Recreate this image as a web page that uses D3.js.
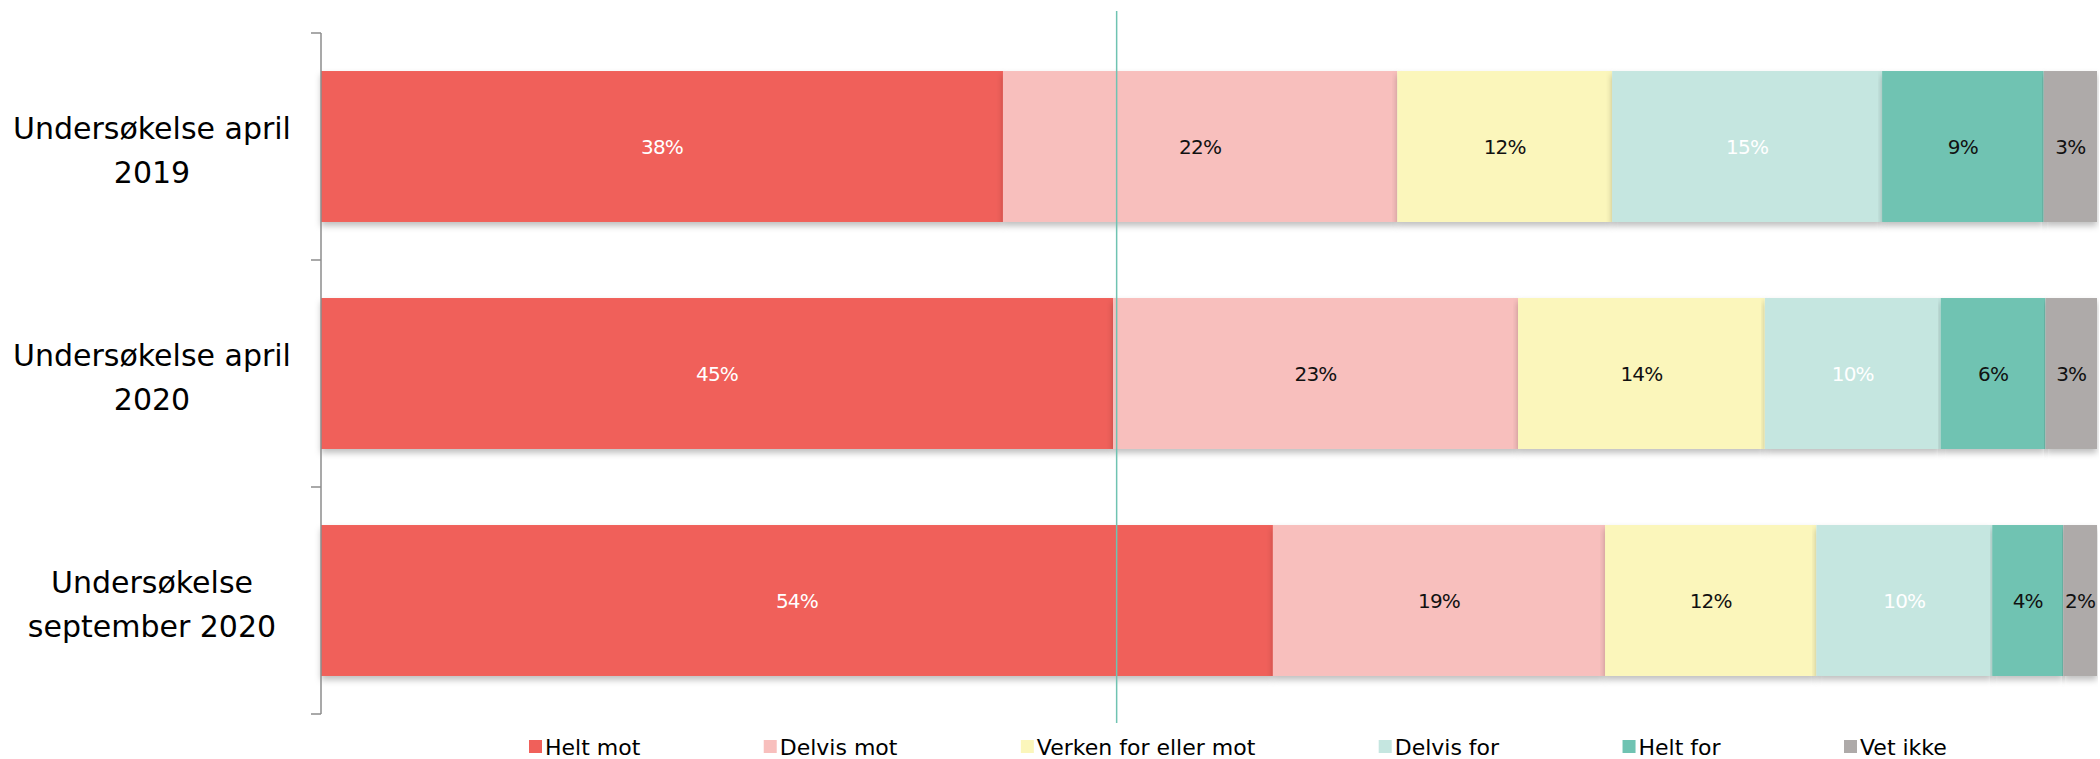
<!DOCTYPE html>
<head>
    <meta charset="utf-8">
    <title>Undersøkelse</title>
    <style>
        html, body {
            margin: 0;
            background: #fff;
        }
        svg text {
            font-family: "DejaVu Sans", sans-serif;
        }
    </style>
</head>
<body>
<script src="https://cdn.jsdelivr.net/npm/d3@7"></script>
<script>

    // data (share of answers, each row sums to ~100)
    const surveys = [
        ["Undersøkelse april", "2019"],
        ["Undersøkelse april", "2020"],
        ["Undersøkelse", "september 2020"]
    ];
    const answers = ["Helt mot", "Delvis mot", "Verken for eller mot", "Delvis for", "Helt for", "Vet ikke"];
    const heltMot = [38.4, 44.6, 53.6];
    const delvisMot = [22.2, 22.8, 18.7];
    const verken = [12.1, 13.9, 11.9];
    const delvisFor = [15.2, 9.9, 9.9];
    const heltFor = [9.1, 5.9, 4.0];
    const vetIkke = [3.0, 2.9, 1.9];
    const refLine = 44.8;

    const colors = ["#f0605a", "#f8bfbd", "#fbf6bb", "#c5e6e0", "#6fc3b2", "#aeaaa9"];
    const labelColors = ["#fff", "#111", "#111", "#fff", "#111", "#111"];

    const width = 2100, height = 759;
    const margin = {top: 33, right: 3, bottom: 45, left: 321};

    const svg = d3.select("body").append("svg")
        .attr("width", width)
        .attr("height", height);

    const defs = svg.append("defs");
    const shadow = defs.append("filter").attr("id", "shadow")
        .attr("x", "-2%").attr("y", "-5%").attr("width", "104%").attr("height", "120%");
    shadow.append("feDropShadow")
        .attr("dx", 0).attr("dy", 4).attr("stdDeviation", 3)
        .attr("flood-color", "#000").attr("flood-opacity", 0.25);

    const series = [heltMot, delvisMot, verken, delvisFor, heltFor, vetIkke];
    const rows = surveys.map((s, i) => {
        const row = {idx: i};
        answers.forEach((a, j) => row[a] = series[j][i]);
        return row;
    });

    const stack = d3.stack().keys(answers).offset(d3.stackOffsetExpand);
    const stacked = stack(rows);

    const x = d3.scaleLinear()
        .domain([0, 1])
        .range([margin.left, width - margin.right]);

    const y = d3.scaleBand()
        .domain(d3.range(surveys.length))
        .range([margin.top, height - margin.bottom])
        .paddingInner(0.335)
        .paddingOuter(0.1675);

    // bars
    const layers = svg.append("g").selectAll("g")
        .data(stacked)
        .join("g")
        .attr("fill", (d, i) => colors[i]);

    layers.selectAll("rect")
        .data(d => d)
        .join("rect")
        .attr("x", d => x(d[0]))
        .attr("y", (d, i) => y(i))
        .attr("width", d => x(d[1]) - x(d[0]))
        .attr("height", y.bandwidth())
        .attr("filter", "url(#shadow)");

    // data labels
    svg.append("g").selectAll("g")
        .data(stacked)
        .join("g")
        .attr("fill", (d, i) => labelColors[i])
        .selectAll("text")
        .data(d => d)
        .join("text")
        .attr("x", d => (x(d[0]) + x(d[1])) / 2)
        .attr("y", (d, i) => y(i) + y.bandwidth() / 2)
        .attr("dy", "0.35em")
        .attr("text-anchor", "middle")
        .attr("font-size", 20)
        .attr("letter-spacing", -0.8)
        .text(d => Math.round((d[1] - d[0]) * 100) + "%");

    // category axis
    const axis = svg.append("g").attr("stroke", "#8c8c8c").attr("stroke-width", 1.5);
    axis.append("line")
        .attr("x1", margin.left).attr("x2", margin.left)
        .attr("y1", margin.top).attr("y2", height - margin.bottom);
    const step = y.step();
    axis.selectAll(".tick")
        .data(d3.range(surveys.length + 1))
        .join("line")
        .attr("class", "tick")
        .attr("x1", margin.left - 10).attr("x2", margin.left)
        .attr("y1", i => margin.top + i * step)
        .attr("y2", i => margin.top + i * step);

    const catLabels = svg.append("g").selectAll("text")
        .data(surveys)
        .join("text")
        .attr("text-anchor", "middle")
        .attr("font-size", 30)
        .attr("fill", "#000")
        .attr("x", 152)
        .attr("y", (d, i) => y(i) + y.bandwidth() / 2 - 8);
    catLabels.selectAll("tspan")
        .data(d => d)
        .join("tspan")
        .attr("x", 152)
        .attr("dy", (d, i) => i ? 44 : 0)
        .text(d => d);

    // vertical reference line
    svg.append("line")
        .attr("x1", x(refLine / 100)).attr("x2", x(refLine / 100))
        .attr("y1", 11).attr("y2", 723)
        .attr("stroke", "#6fc3b2")
        .attr("stroke-width", 1.5);

    // legend
    const legend = svg.append("g");
    const items = legend.selectAll("g")
        .data(answers)
        .join("g");
    items.append("rect")
        .attr("width", 13).attr("height", 13)
        .attr("y", 740)
        .attr("fill", (d, i) => colors[i]);
    items.append("text")
        .attr("x", 16)
        .attr("y", 747)
        .attr("dy", "0.35em")
        .attr("font-size", 22)
        .attr("fill", "#000")
        .text(d => d);

    const widths = [];
    items.each(function () {
        widths.push(16 + this.querySelector("text").getComputedTextLength());
    });
    const first = 529, last = 1844;
    const gap = (last - first - d3.sum(widths.slice(0, -1))) / (answers.length - 1);
    let pos = first;
    const offsets = widths.map(w => {
        const p = pos;
        pos += w + gap;
        return p;
    });
    items.attr("transform", (d, i) => `translate(${offsets[i]},0)`);

</script>
